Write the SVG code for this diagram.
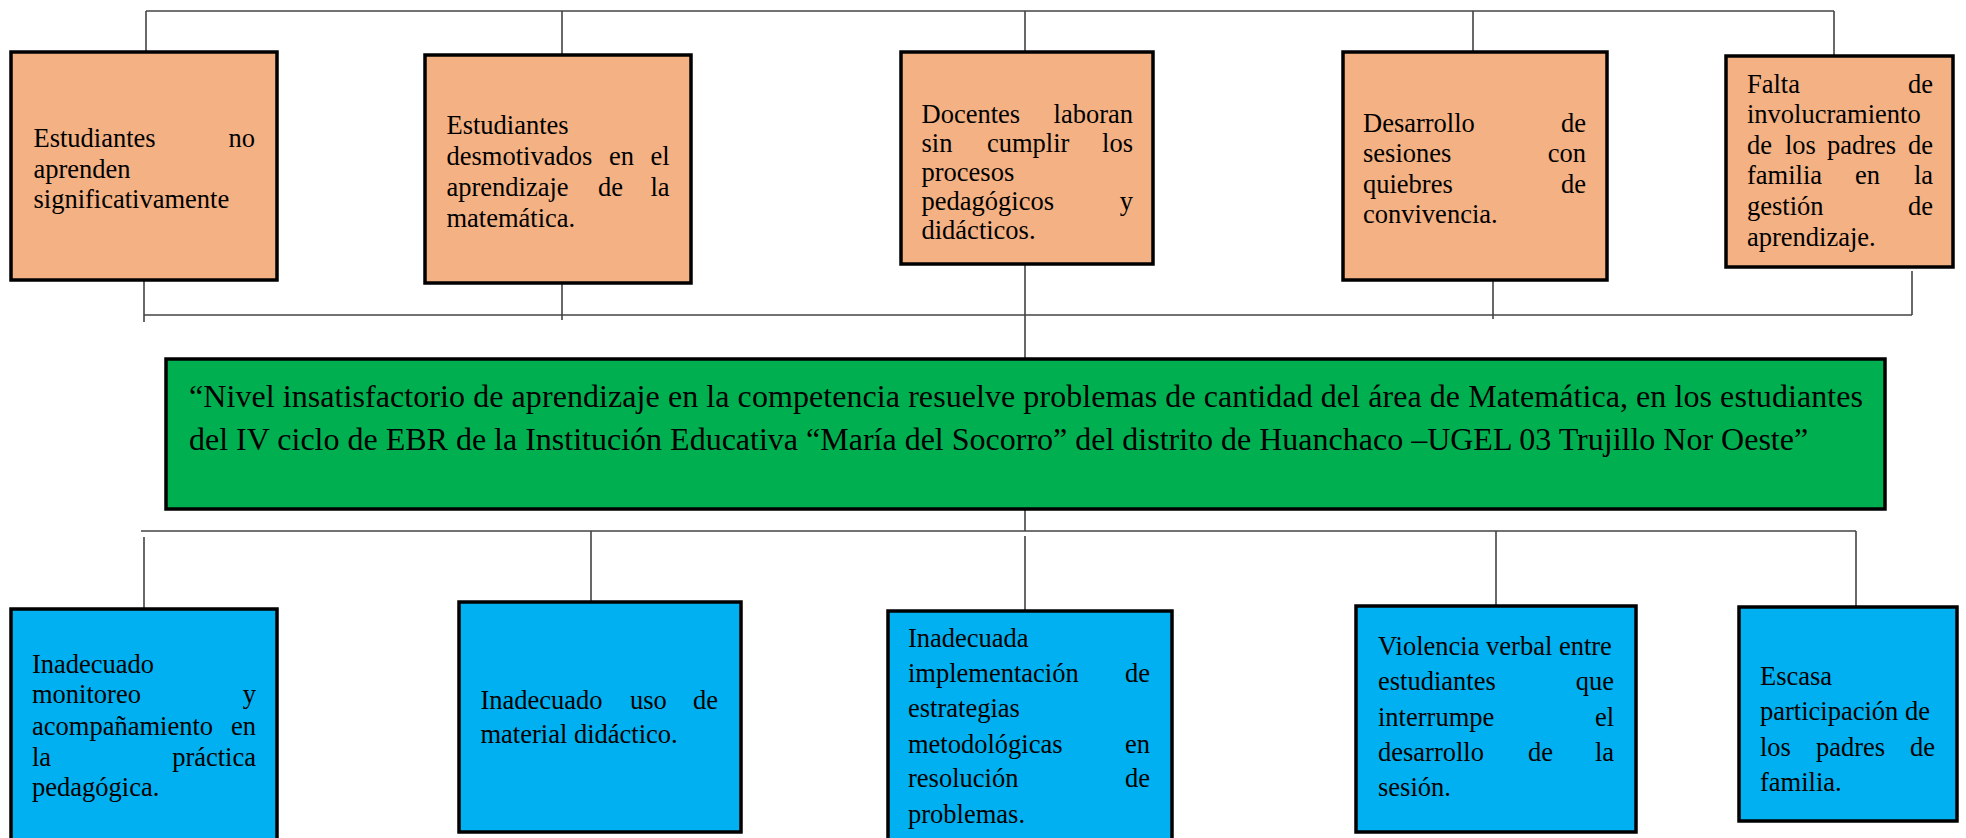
<svg xmlns="http://www.w3.org/2000/svg" width="1966" height="838" viewBox="0 0 1966 838">
<style>
.box{stroke:#000;stroke-width:3.5}
.o{fill:#F4B183}
.g{fill:#00B050}
.b{fill:#00B0F0}
.t{font-family:"Liberation Serif","Times New Roman",serif;font-size:26.5px;fill:#000}
.e{text-anchor:end}
.m{font-family:"Liberation Serif","Times New Roman",serif;font-size:32px;fill:#000}
.c{stroke:#444;stroke-width:1.6;fill:none}
</style>
<rect width="1966" height="838" fill="#fff"/>
<g id="connectors">
<path class="c" d="M146 11H1834M146 11V52M562 11V55M1025 11V52M1473 11V52M1834 11V56"/>
<path class="c" d="M144 315H1912M144 280V322M562 283V320M1025 264V359M1493 280V319M1912 271V315"/>
<path class="c" d="M1025 509V531M141 531H1856M144 537V609M591 531V602M1025 536V611M1496 531V606M1856 531V607"/>
</g>
<g id="t1">
<rect class="box o" x="11" y="52" width="266" height="228"/>
<text class="t" x="33.5" y="147">Estudiantes</text><text class="t e" x="255" y="147">no</text>
<text class="t" x="33.5" y="178">aprenden</text>
<text class="t" x="33.5" y="208">significativamente</text>
</g>
<g id="t2">
<rect class="box o" x="425" y="55" width="266" height="228"/>
<text class="t" x="446.5" y="134">Estudiantes</text>
<text class="t" x="446.5" y="165">desmotivados</text><text class="t" x="609" y="165">en</text><text class="t e" x="669.5" y="165">el</text>
<text class="t" x="446.5" y="196">aprendizaje</text><text class="t" x="598" y="196">de</text><text class="t e" x="669.5" y="196">la</text>
<text class="t" x="446.5" y="227">matemática.</text>
</g>
<g id="t3">
<rect class="box o" x="901" y="52" width="252" height="212"/>
<text class="t" x="921.5" y="123">Docentes</text><text class="t e" x="1133" y="123">laboran</text>
<text class="t" x="921.5" y="152">sin</text><text class="t" x="987" y="152">cumplir</text><text class="t e" x="1133" y="152">los</text>
<text class="t" x="921.5" y="181">procesos</text>
<text class="t" x="921.5" y="210">pedagógicos</text><text class="t e" x="1133" y="210">y</text>
<text class="t" x="921.5" y="239">didácticos.</text>
</g>
<g id="t4">
<rect class="box o" x="1343" y="52" width="264" height="228"/>
<text class="t" x="1363" y="132">Desarrollo</text><text class="t e" x="1586" y="132">de</text>
<text class="t" x="1363" y="162">sesiones</text><text class="t e" x="1586" y="162">con</text>
<text class="t" x="1363" y="193">quiebres</text><text class="t e" x="1586" y="193">de</text>
<text class="t" x="1363" y="223">convivencia.</text>
</g>
<g id="t5">
<rect class="box o" x="1726" y="56" width="227" height="211"/>
<text class="t" x="1747" y="93">Falta</text><text class="t e" x="1933" y="93">de</text>
<text class="t" x="1747" y="123">involucramiento</text>
<text class="t" x="1747" y="154">de</text><text class="t" x="1785" y="154">los</text><text class="t" x="1827" y="154">padres</text><text class="t e" x="1933" y="154">de</text>
<text class="t" x="1747" y="184">familia</text><text class="t" x="1855" y="184">en</text><text class="t e" x="1933" y="184">la</text>
<text class="t" x="1747" y="215">gestión</text><text class="t e" x="1933" y="215">de</text>
<text class="t" x="1747" y="246">aprendizaje.</text>
</g>
<g id="problem">
<rect class="box g" x="166" y="359" width="1719" height="150"/>
<text class="m" x="189" y="407" textLength="1674" lengthAdjust="spacing">“Nivel insatisfactorio de aprendizaje en la competencia resuelve problemas de cantidad del área de Matemática, en los estudiantes</text>
<text class="m" x="189" y="450">del IV ciclo de EBR de la Institución Educativa “María del Socorro” del distrito de Huanchaco –UGEL 03 Trujillo Nor Oeste”</text>
</g>
<g id="b1">
<rect class="box b" x="11" y="609" width="266" height="240"/>
<text class="t" x="32" y="673">Inadecuado</text>
<text class="t" x="32" y="703">monitoreo</text><text class="t e" x="256" y="703">y</text>
<text class="t" x="32" y="735">acompañamiento</text><text class="t e" x="256" y="735">en</text>
<text class="t" x="32" y="766">la</text><text class="t e" x="256" y="766">práctica</text>
<text class="t" x="32" y="796">pedagógica.</text>
</g>
<g id="b2">
<rect class="box b" x="459" y="602" width="282" height="230"/>
<text class="t" x="480.5" y="709">Inadecuado</text><text class="t" x="630" y="709">uso</text><text class="t e" x="718" y="709">de</text>
<text class="t" x="480.5" y="743">material didáctico.</text>
</g>
<g id="b3">
<rect class="box b" x="888" y="611" width="284" height="240"/>
<text class="t" x="908" y="647">Inadecuada</text>
<text class="t" x="908" y="682">implementación</text><text class="t e" x="1150" y="682">de</text>
<text class="t" x="908" y="717">estrategias</text>
<text class="t" x="908" y="753">metodológicas</text><text class="t e" x="1150" y="753">en</text>
<text class="t" x="908" y="787">resolución</text><text class="t e" x="1150" y="787">de</text>
<text class="t" x="908" y="823">problemas.</text>
</g>
<g id="b4">
<rect class="box b" x="1356" y="606" width="280" height="226"/>
<text class="t" x="1378" y="655">Violencia verbal entre</text>
<text class="t" x="1378" y="690">estudiantes</text><text class="t e" x="1614" y="690">que</text>
<text class="t" x="1378" y="726">interrumpe</text><text class="t e" x="1614" y="726">el</text>
<text class="t" x="1378" y="761">desarrollo</text><text class="t" x="1528" y="761">de</text><text class="t e" x="1614" y="761">la</text>
<text class="t" x="1378" y="796">sesión.</text>
</g>
<g id="b5">
<rect class="box b" x="1739" y="607" width="218" height="214"/>
<text class="t" x="1760" y="685">Escasa</text>
<text class="t" x="1760" y="720">participación de</text>
<text class="t" x="1760" y="756">los</text><text class="t" x="1816" y="756">padres</text><text class="t e" x="1935" y="756">de</text>
<text class="t" x="1760" y="791">familia.</text>
</g>
</svg>
